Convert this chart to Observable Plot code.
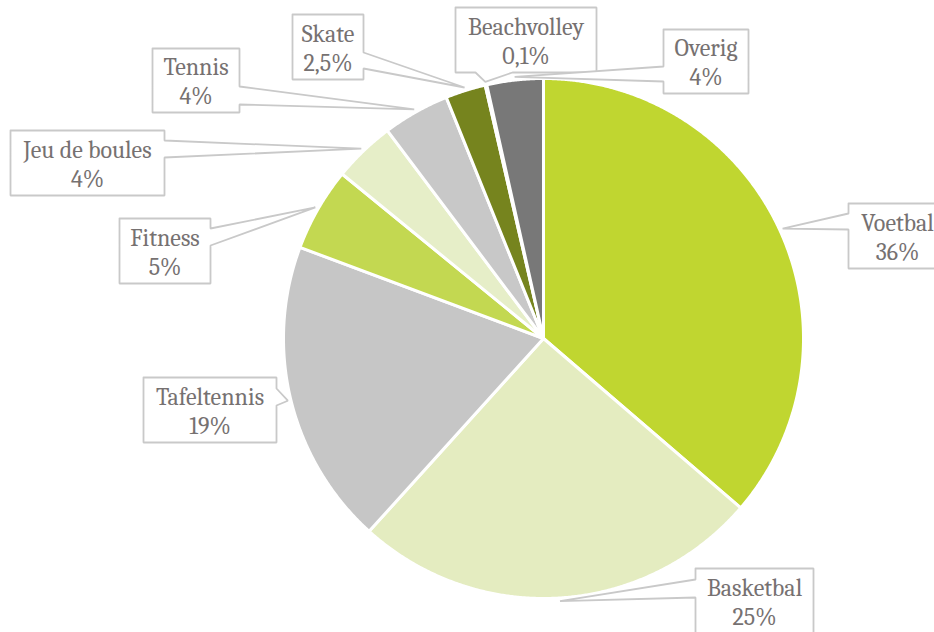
<!DOCTYPE html>
<html>
<head>
<meta charset="utf-8">
<script src="https://cdn.jsdelivr.net/npm/d3@7"></script>
<script src="https://cdn.jsdelivr.net/npm/@observablehq/plot@0.6"></script>
<style>
  html, body { margin: 0; padding: 0; background: #ffffff; }
  #chart svg { display: block; }
</style>
</head>
<body>
<div id="chart"></div>
<script>
// ---- data ----
const categories = ["Voetbal", "Basketbal", "Tafeltennis", "Fitness", "Jeu de boules", "Tennis", "Skate", "Beachvolley", "Overig"];
const shares = [36.3, 25.4, 19.0, 5.2, 3.85, 4.15, 2.5, 0.1, 3.5];
const valueLabels = ["36%", "25%", "19%", "5%", "4%", "4%", "2,5%", "0,1%", "4%"];
const sliceColors = ["#c0d630", "#e4ecc0", "#c6c6c6", "#c3d851", "#e6eec8", "#c8c8c8", "#76841e", "#bfbfbf", "#787878"];

// ---- layout (pixels) ----
const W = 934, H = 632, CX = 543, CY = 338, R = 260;
const FONT = "Caladea, Cambria, 'Liberation Serif', serif";
const labelBoxes = [
  {x0: 848, x1: 946, y0: 203, y1: 268, side: "left",   b0: 213, b1: 229},
  {x0: 695, x1: 813, y0: 568, y1: 634, side: "left",   b0: 579, b1: 597},
  {x0: 143, x1: 276, y0: 377, y1: 442, side: "right",  b0: 388, b1: 405},
  {x0: 119, x1: 210, y0: 218, y1: 283, side: "right",  b0: 228, b1: 245},
  {x0: 10,  x1: 164, y0: 130, y1: 195, side: "right",  b0: 140, b1: 157},
  {x0: 152, x1: 239, y0: 48,  y1: 112, side: "right",  b0: 86,  b1: 104},
  {x0: 292, x1: 363, y0: 14,  y1: 79,  side: "right",  b0: 52,  b1: 68},
  {x0: 455, x1: 596, y0: 7,   y1: 72,  side: "bottom", b0: 475, b1: 512},
  {x0: 663, x1: 748, y0: 29,  y1: 93,  side: "left",   b0: 66,  b1: 81}
];

const ux = px => (px - CX) / R;
const uy = py => (CY - py) / R;

// pie geometry in unit coordinates
const pie = d3.pie().sort(null).value(d => d.v).startAngle(0).endAngle(2 * Math.PI);
const arcs = pie(categories.map((c, i) => ({c, v: shares[i]})));

const slicePts = [];
arcs.forEach(a => {
  const name = a.data.c;
  slicePts.push({name, x: 0, y: 0});
  const n = Math.max(2, Math.ceil((a.endAngle - a.startAngle) / 0.005));
  for (let k = 0; k <= n; k++) {
    const t = a.startAngle + (a.endAngle - a.startAngle) * k / n;
    slicePts.push({name, x: Math.sin(t), y: Math.cos(t)});
  }
  slicePts.push({name, x: 0, y: 0});
});

// callouts
const calloutPts = [];
const textData = [];
arcs.forEach((a, i) => {
  const b = labelBoxes[i];
  const mid = (a.startAngle + a.endAngle) / 2;
  const tip = [Math.sin(mid) * 1.012, Math.cos(mid) * 1.012];
  const X0 = ux(b.x0), X1 = ux(b.x1), Y0 = uy(b.y0), Y1 = uy(b.y1);
  let pts;
  if (b.side === "left") {
    pts = [[X0, Y0], [X1, Y0], [X1, Y1], [X0, Y1], [X0, uy(b.b1)], tip, [X0, uy(b.b0)], [X0, Y0]];
  } else if (b.side === "right") {
    pts = [[X0, Y0], [X1, Y0], [X1, uy(b.b0)], tip, [X1, uy(b.b1)], [X1, Y1], [X0, Y1], [X0, Y0]];
  } else {
    pts = [[X0, Y0], [X1, Y0], [X1, Y1], [ux(b.b1), Y1], tip, [ux(b.b0), Y1], [X0, Y1], [X0, Y0]];
  }
  pts.forEach(p => calloutPts.push({name: categories[i], x: p[0], y: p[1]}));
  textData.push({x: (X0 + X1) / 2, y: (Y0 + Y1) / 2, label: categories[i] + "\n" + valueLabels[i]});
});

const chart = Plot.plot({
  width: W,
  height: H,
  margin: 0,
  x: {domain: [ux(0), ux(W)], range: [0, W], axis: null},
  y: {domain: [uy(H), uy(0)], range: [H, 0], axis: null},
  color: {domain: categories, range: sliceColors},
  style: {background: "#ffffff", fontFamily: FONT},
  marks: [
    Plot.line(slicePts, {x: "x", y: "y", z: "name", fill: "name", stroke: "#ffffff", strokeWidth: 3, strokeLinejoin: "round"}),
    Plot.line(calloutPts, {x: "x", y: "y", z: "name", fill: "#ffffff", stroke: "#c9c9c9", strokeWidth: 1.8, strokeLinejoin: "miter"}),
    Plot.text(textData, {x: "x", y: "y", text: "label", fill: "#767171", fontFamily: FONT, fontSize: 24, lineHeight: 1.2, textAnchor: "middle", lineAnchor: "middle"})
  ]
});
document.getElementById("chart").appendChild(chart);
</script>
</body>
</html>
